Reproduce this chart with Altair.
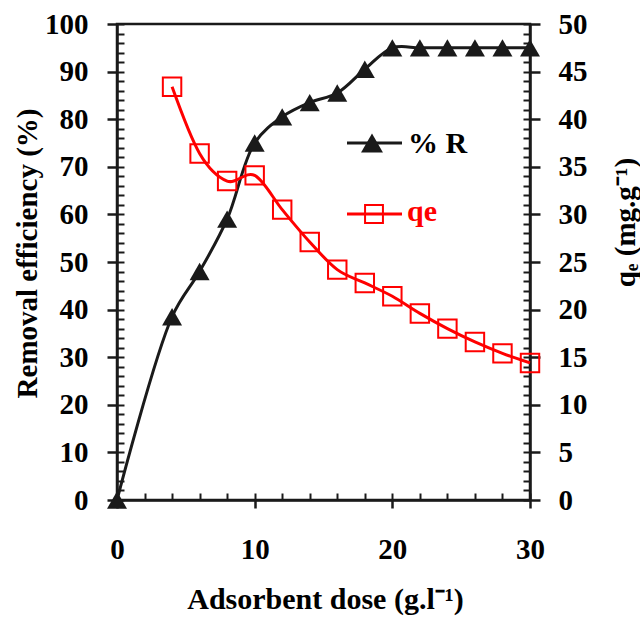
import altair as alt
import pandas as pd

# ---- data ----
dose_R = [0, 4, 6, 8, 10, 12, 14, 16, 18, 20, 22, 24, 26, 28, 30]
removal = [0, 38.5, 48, 59, 75, 80.5, 83.5, 85.5, 90.5, 95, 95, 95, 95, 95, 95]
dose_q = [4, 6, 8, 10, 12, 14, 16, 18, 20, 22, 24, 26, 28, 30]
qe_vals = [43.4, 36.4, 33.5, 34.1, 30.5, 27.1, 24.2, 22.8, 21.4, 19.6, 18.0, 16.6, 15.4, 14.4]
legend_labels = ["% R", "qe"]
x_ticks = [0, 10, 20, 30]
yl_ticks = list(range(0, 101, 10))
yr_ticks = list(range(0, 51, 5))

FONT = "Liberation Serif"
BLACK = "#1a1a1a"
RED = "#ff0000"
W, H = 413, 476

dfR = pd.DataFrame({"dose": dose_R, "R": removal})
dfQ = pd.DataFrame({"dose": dose_q, "qe": qe_vals})
dfL1 = pd.DataFrame({"label": [legend_labels[0]]})
dfL2 = pd.DataFrame({"label": [legend_labels[1]]})

xs = alt.Scale(domain=[0, 30], nice=False, zero=False)
ysL = alt.Scale(domain=[0, 100], nice=False)
ysR = alt.Scale(domain=[0, 50], nice=False)

common = dict(
    labelFont=FONT, labelFontWeight="bold", labelFontSize=29, labelColor="black",
    titleFont=FONT, titleFontWeight="bold", titleColor="black",
    domainColor=BLACK, domainWidth=2.5, tickColor=BLACK, tickWidth=2.5,
    grid=False, labelFlush=False, labelOverlap=False,
)
inner = dict(labels=False, domain=False, grid=False, tickColor=BLACK, tickWidth=2, tickSize=7)

x_main = alt.X("dose:Q", scale=xs, title="Adsorbent dose (g.l⁻¹)",
               axis=alt.Axis(values=x_ticks, tickSize=8, labelPadding=27, titleFontSize=30,
                             titleX=208, titleY=108, titleBaseline="alphabetic",
                             titleAlign="center", **common))
x_inner = alt.X("dose:Q", scale=xs, title=None,
                axis=alt.Axis(orient="top", offset=-H, values=list(range(0, 31, 2)), **inner))

line_R = alt.Chart(dfR).mark_line(color=BLACK, strokeWidth=3, interpolate="catmull-rom").encode(
    x=x_main,
    y=alt.Y("R:Q", scale=ysL, title="Removal efficiency (%)",
            axis=alt.Axis(orient="left", values=yl_ticks, tickSize=10, labelPadding=19,
                          titleFontSize=29,
                          titleAngle=270, titleX=-90, titleY=229, titleAlign="center",
                          titleBaseline="middle", **common)),
)
pts_R = alt.Chart(dfR).mark_point(shape="triangle-up", size=400, filled=True,
                                  color=BLACK, opacity=1).encode(
    x=x_inner,
    y=alt.Y("R:Q", scale=ysL, title=None,
            axis=alt.Axis(orient="right", offset=-W, values=list(range(0, 101, 2)), **inner)),
)
line_Q = alt.Chart(dfQ).mark_line(color=RED, strokeWidth=3, interpolate="cardinal").encode(
    x=alt.X("dose:Q", scale=xs, axis=None),
    y=alt.Y("qe:Q", scale=ysR, title="qₑ (mg.g⁻¹)",
            axis=alt.Axis(orient="right", values=yr_ticks, tickSize=10, labelPadding=18,
                          titleFontSize=29,
                          titleAngle=270, titleX=95, titleY=198, titleAlign="center",
                          titleBaseline="middle", **common)),
)
pts_Q = alt.Chart(dfQ).mark_point(shape="square", size=340, filled=False,
                                  color=RED, strokeWidth=2, opacity=1).encode(
    x=alt.X("dose:Q", scale=xs, axis=None),
    y=alt.Y("qe:Q", scale=ysR, title=None,
            axis=alt.Axis(orient="left", offset=-W, values=list(range(0, 51, 1)), **inner)),
)

# ---- in-plot legend ----
leg_rule1 = alt.Chart(dfL1).mark_rule(color=BLACK, strokeWidth=3).encode(
    x=alt.value(230), x2=alt.value(285), y=alt.value(119))
leg_pt1 = alt.Chart(dfL1).mark_point(shape="triangle-up", size=480, filled=True,
                                     color=BLACK, opacity=1).encode(
    x=alt.value(255), y=alt.value(119))
leg_txt1 = alt.Chart(dfL1).mark_text(font=FONT, fontWeight="bold", fontSize=30, color="black",
                                     align="left", baseline="middle").encode(
    x=alt.value(291), y=alt.value(120), text="label:N")
leg_rule2 = alt.Chart(dfL2).mark_rule(color=RED, strokeWidth=3).encode(
    x=alt.value(230), x2=alt.value(285), y=alt.value(190))
leg_pt2 = alt.Chart(dfL2).mark_point(shape="square", size=320, filled=False,
                                     color=RED, strokeWidth=2, opacity=1).encode(
    x=alt.value(257), y=alt.value(190))
leg_txt2 = alt.Chart(dfL2).mark_text(font=FONT, fontWeight="bold", fontSize=30, color=RED,
                                     align="left", baseline="middle").encode(
    x=alt.value(290), y=alt.value(188), text="label:N")

chart = alt.layer(
    line_R, pts_R, line_Q, pts_Q,
    leg_rule1, leg_pt1, leg_txt1, leg_rule2, leg_pt2, leg_txt2,
).resolve_scale(y="independent").resolve_axis(x="independent", y="independent").properties(
    width=W, height=H,
    padding={"left": 117, "top": 24, "right": 110, "bottom": 120},
    autosize=alt.AutoSizeParams(type="none"),
    background="white",
).configure_view(stroke=BLACK, strokeWidth=2.5)

chart.save("out.html", embed_options={"renderer": "svg", "actions": False})
